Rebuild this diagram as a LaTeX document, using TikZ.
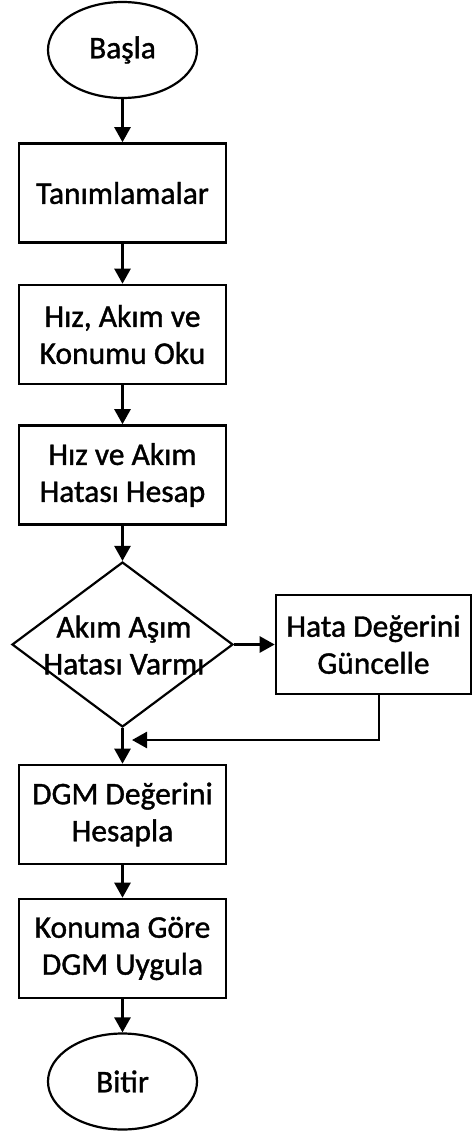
\documentclass[tikz,border=0pt]{standalone}
\usepackage{fontspec}
\setmainfont{Carlito}
\newfontfamily\diafont{Carlito}[FakeBold=1.2]
\usetikzlibrary{shapes.geometric,arrows.meta}
\begin{document}
\begin{tikzpicture}[x=1pt,y=-1pt,
  every node/.style={font=\diafont\fontsize{31.5}{37}\selectfont, align=center, inner sep=0pt},
  term/.style={draw, line width=2.2pt, ellipse, minimum width=149pt, minimum height=96pt},
  proc/.style={draw, line width=2.6pt, rectangle, minimum width=207pt, minimum height=99pt},
  decide/.style={draw, line width=2.2pt, diamond, minimum width=221pt, minimum height=165pt},
  flow/.style={line width=2.6pt, -{Triangle[width=16pt,length=15pt]}}]
\useasboundingbox (0,0) rectangle (473,1131);
\node[term] (start) at (122.5,50) {Başla};
\node[proc] (tanim) at (122.5,193) {Tanımlamalar};
\node[proc] (oku) at (122.5,334.5) {Hız, Akım ve\\Konumu Oku};
\node[proc] (hata) at (122.5,475) {Hız ve Akım\\Hatası Hesap};
\node[decide] (karar) at (122.5,644.5) {};
\node (kararyazi) at (124,645) {Akım Aşım\\Hatası Varmı};
\node[proc, minimum width=195pt] (guncel) at (373.5,644.5) {Hata Değerini\\Güncelle};
\node[proc] (dgm) at (122.5,814.5) {DGM Değerini\\Hesapla};
\node[proc] (uygula) at (122.5,948.5) {Konuma Göre\\DGM Uygula};
\node[term] (bitir) at (122.5,1081.5) {Bitir};
\coordinate (donus) at (132,740);
\draw[flow] (start) -- (tanim);
\draw[flow] (tanim) -- (oku);
\draw[flow] (oku) -- (hata);
\draw[flow] (hata) -- (karar);
\draw[flow] (karar) -- (guncel);
\draw[flow] (karar) -- (dgm);
\draw[flow] ([xshift=5.5pt]guncel.south) |- (donus);
\draw[flow] (dgm) -- (uygula);
\draw[flow] (uygula) -- (bitir);
\end{tikzpicture}
\end{document}
